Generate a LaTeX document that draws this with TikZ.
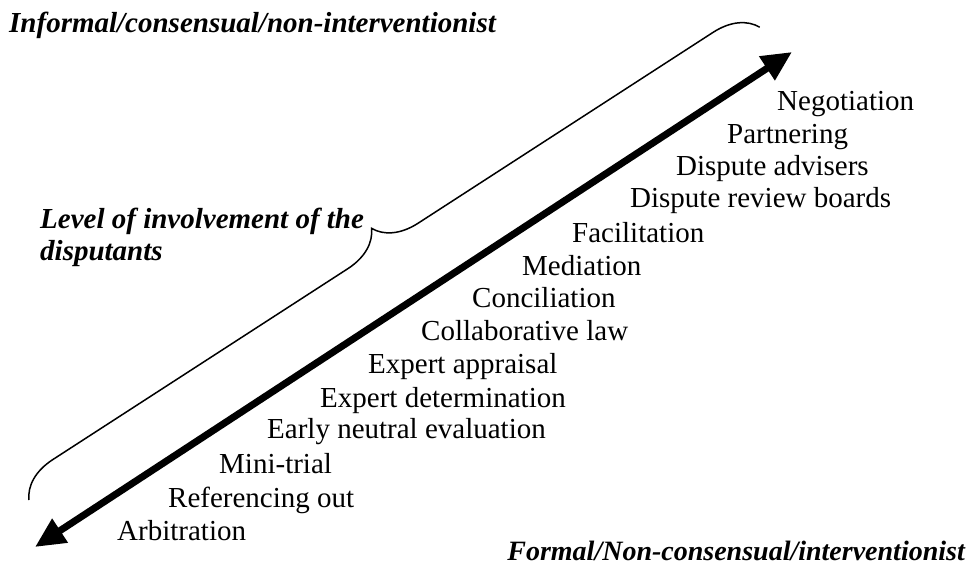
\documentclass[tikz,border=0pt]{standalone}
\usepackage{fontspec}
\setmainfont{Liberation Serif}
\usetikzlibrary{arrows.meta, decorations.pathreplacing}

\begin{document}
\begin{tikzpicture}[%
    x=1pt, y=-1pt,
    font=\fontsize{29}{32}\selectfont,
    >={Triangle[length=30pt, width=27pt]},
    % Styles
    method/.style={anchor=base west, inner sep=0pt},
    heading/.style={inner sep=0pt, font=\fontsize{29}{32}\selectfont\bfseries\itshape},
    scalearrow/.style={line width=7pt, <->},
    braceline/.style={line width=1.5pt, decorate, decoration={brace, amplitude=42pt, aspect=0.5}}
]
\useasboundingbox (0,0) rectangle (970,568);

% --- 1. The scale ---
\coordinate (formal_end) at (35,547);
\coordinate (informal_end) at (792,52);
\draw[scalearrow] (formal_end) -- (informal_end);

% --- 2. Ends of the scale ---
\node[heading, anchor=base west] (informal) at (9,32) {Informal/consensual/non-interventionist};
\node[heading, anchor=base east, font=\fontsize{28}{32}\selectfont\bfseries\itshape] (formal) at (965,560) {Formal/Non-consensual/interventionist};

% --- 3. Brace with involvement label ---
\coordinate (brace_low) at (29,500);
\coordinate (brace_high) at (760,27);
\draw[braceline] (brace_low) -- (brace_high);
\node[heading, anchor=north west, align=left] (involvement) at (40,208) {Level of involvement of the\\disputants};

% --- 4. Methods along the scale ---
\foreach \name/\px/\py/\txt in {%
    negotiation/777/110/Negotiation,
    partnering/727/143/Partnering,
    advisers/676/175/Dispute advisers,
    boards/630/207/Dispute review boards,
    facilitation/572/242/Facilitation,
    mediation/522/275/Mediation,
    conciliation/472/307/Conciliation,
    collaborative/421/340/Collaborative law,
    appraisal/368/373/Expert appraisal,
    determination/320/407/Expert determination,
    evaluation/267/438/Early neutral evaluation,
    minitrial/219/473/Mini-trial,
    referencing/168/507/Referencing out,
    arbitration/117/540/Arbitration}
    \node[method] (\name) at (\px,\py) {\txt};

\end{tikzpicture}
\end{document}
